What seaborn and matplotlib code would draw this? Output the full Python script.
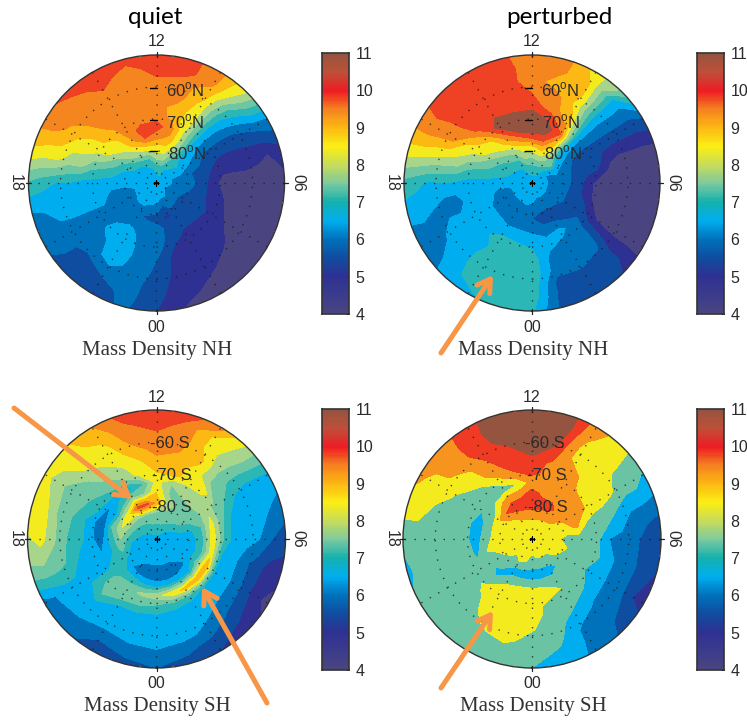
import numpy as np
import pandas as pd
import matplotlib
matplotlib.use("Agg")
import matplotlib.pyplot as plt
import seaborn as sns

# --- values: one row per local time hour (00..23),
# one column per radius (0 = pole, 1 = rim) ---
RADII = [0.0, 0.12, 0.20, 0.28, 0.36, 0.44, 0.52, 0.60, 0.70, 0.80, 0.90, 1.0]

quiet_nh = [
    [6.3, 6.25, 5.75, 5.25, 5.75, 5.75, 5.75, 5.5, 5.4, 5.2, 5.1, 5.0],
    [6.3, 6.0, 5.3, 4.9, 5.3, 5.3, 5.0, 4.75, 4.75, 4.75, 4.7, 4.4],
    [6.3, 6.0, 5.7, 5.0, 5.2, 4.9, 4.75, 4.75, 4.7, 4.6, 4.3, 4.25],
    [6.3, 5.9, 5.5, 5.1, 5.2, 4.9, 4.75, 4.7, 4.6, 4.3, 4.25, 4.25],
    [6.3, 5.8, 5.5, 5.3, 5.2, 5.0, 4.8, 4.5, 4.25, 4.25, 4.25, 4.25],
    [6.3, 5.9, 5.7, 5.4, 5.3, 4.7, 4.6, 4.25, 4.25, 4.25, 4.25, 4.25],
    [6.3, 6.0, 5.8, 5.6, 5.25, 4.7, 4.3, 4.25, 4.25, 4.25, 4.25, 4.25],
    [6.3, 6.0, 5.9, 5.5, 5.25, 5.0, 4.7, 4.7, 4.7, 4.6, 4.5, 4.8],
    [6.3, 6.1, 6.2, 6.0, 5.75, 5.3, 5.25, 5.2, 5.25, 5.5, 5.75, 5.9],
    [6.3, 6.3, 6.7, 6.25, 6.25, 6.2, 6.2, 6.25, 6.5, 6.9, 7.6, 8.0],
    [6.3, 6.5, 6.9, 7.4, 7.8, 7.8, 8.0, 8.2, 8.3, 8.7, 9.1, 9.2],
    [6.3, 6.7, 7.7, 8.3, 8.9, 9.2, 8.8, 8.8, 9.2, 9.2, 9.7, 9.7],
    [6.3, 6.6, 7.7, 8.3, 9.2, 9.7, 9.3, 9.2, 9.2, 9.4, 9.7, 9.8],
    [6.3, 6.5, 7.0, 8.2, 9.5, 9.7, 9.2, 9.2, 9.25, 9.3, 9.3, 9.7],
    [6.3, 6.3, 6.9, 8.0, 8.8, 9.2, 9.2, 9.25, 9.25, 9.4, 9.7, 9.8],
    [6.3, 6.2, 6.6, 7.6, 8.1, 8.3, 8.8, 9.0, 9.25, 9.25, 9.3, 9.7],
    [6.3, 6.1, 6.5, 6.8, 7.4, 8.0, 8.2, 8.25, 8.5, 8.9, 9.2, 9.25],
    [6.3, 6.1, 6.3, 6.4, 6.8, 7.0, 7.2, 7.75, 7.75, 8.2, 8.2, 8.4],
    [6.3, 6.1, 6.25, 6.2, 6.25, 6.25, 6.3, 6.3, 6.5, 6.5, 6.7, 6.9],
    [6.3, 6.2, 5.9, 5.8, 5.8, 6.2, 6.25, 6.25, 6.25, 6.2, 6.0, 5.9],
    [6.3, 6.25, 5.9, 5.5, 5.75, 5.8, 5.75, 5.75, 5.75, 5.75, 5.75, 5.6],
    [6.3, 6.3, 6.0, 5.6, 5.75, 6.0, 6.1, 5.9, 5.8, 5.3, 5.25, 5.25],
    [6.3, 6.25, 6.0, 5.6, 5.9, 6.25, 6.25, 6.25, 6.2, 5.7, 5.25, 5.25],
    [6.3, 6.2, 5.9, 5.4, 5.75, 5.8, 5.9, 5.9, 5.8, 5.75, 5.7, 5.6],
]

perturbed_nh = [
    [6.2, 6.2, 5.8, 5.5, 5.8, 6.2, 6.5, 6.8, 6.9, 6.9, 6.8, 6.6],
    [6.2, 6.0, 5.7, 5.2, 5.6, 6.0, 6.1, 5.8, 5.75, 5.3, 5.3, 5.2],
    [6.2, 6.0, 5.8, 5.0, 5.6, 6.2, 5.8, 5.75, 5.75, 5.4, 5.25, 5.25],
    [6.2, 6.0, 5.7, 5.3, 5.3, 5.7, 5.75, 5.75, 5.6, 5.25, 5.25, 5.0],
    [6.2, 6.0, 5.8, 5.5, 5.3, 5.3, 4.7, 4.4, 4.25, 4.25, 4.25, 4.25],
    [6.2, 6.0, 5.75, 5.5, 5.25, 4.7, 4.3, 4.25, 4.25, 4.25, 4.25, 4.25],
    [6.2, 6.0, 5.75, 5.6, 5.25, 4.7, 4.25, 4.25, 4.25, 4.25, 4.25, 4.25],
    [6.2, 6.0, 5.9, 5.6, 5.3, 5.25, 5.2, 4.6, 4.25, 4.25, 4.25, 4.25],
    [6.2, 6.0, 6.2, 5.9, 5.5, 5.25, 5.25, 5.25, 5.25, 5.25, 5.25, 5.4],
    [6.2, 6.3, 7.2, 6.3, 6.25, 6.2, 6.2, 6.2, 6.2, 6.3, 6.3, 7.4],
    [6.2, 6.7, 7.5, 8.2, 8.7, 9.5, 9.0, 8.6, 8.3, 8.5, 8.5, 8.3],
    [6.2, 6.8, 7.7, 8.7, 9.8, 10.3, 9.8, 9.25, 9.25, 8.7, 9.1, 9.25],
    [6.2, 6.8, 7.5, 8.3, 9.7, 10.5, 10.4, 9.75, 9.5, 9.25, 9.25, 9.25],
    [6.2, 6.7, 7.5, 8.2, 9.3, 10.4, 10.3, 9.8, 9.75, 9.7, 9.7, 9.6],
    [6.2, 6.5, 6.9, 7.7, 8.7, 9.5, 10.4, 9.9, 9.75, 9.8, 9.75, 9.75],
    [6.2, 6.3, 6.8, 7.3, 8.0, 8.3, 9.0, 9.7, 9.75, 9.75, 9.75, 9.75],
    [6.2, 6.2, 6.7, 6.9, 7.4, 8.0, 8.25, 8.5, 9.2, 9.3, 9.4, 9.3],
    [6.2, 6.2, 6.5, 6.7, 6.9, 7.0, 7.2, 7.7, 7.8, 8.0, 8.2, 8.3],
    [6.2, 6.2, 6.2, 6.2, 6.25, 6.25, 6.3, 6.4, 6.5, 6.4, 6.6, 6.8],
    [6.2, 6.1, 5.9, 5.9, 6.2, 6.0, 6.2, 5.7, 5.7, 6.0, 6.2, 6.2],
    [6.2, 6.1, 5.9, 5.5, 6.0, 6.2, 6.25, 6.25, 6.25, 5.9, 5.6, 5.5],
    [6.2, 6.1, 5.9, 5.5, 6.0, 6.25, 6.25, 6.25, 6.3, 6.25, 6.2, 6.1],
    [6.2, 6.1, 5.9, 5.5, 5.9, 6.25, 6.9, 6.6, 6.8, 6.9, 6.8, 6.3],
    [6.2, 6.2, 5.9, 5.5, 5.9, 6.3, 6.7, 6.9, 6.9, 6.9, 6.9, 6.8],
]

quiet_sh = [
    [6.3, 6.2, 6.0, 5.6, 6.2, 7.8, 6.9, 6.4, 6.25, 6.25, 5.8, 5.5],
    [6.3, 6.2, 6.0, 5.5, 6.3, 8.3, 6.8, 6.25, 6.25, 6.1, 5.6, 5.3],
    [6.3, 6.2, 6.0, 5.6, 6.4, 8.6, 6.6, 6.3, 6.1, 5.9, 5.3, 5.0],
    [6.3, 6.2, 6.1, 5.9, 6.5, 8.9, 6.5, 6.2, 5.9, 5.4, 5.0, 4.8],
    [6.3, 6.2, 6.2, 6.2, 7.2, 8.9, 6.4, 6.25, 5.8, 5.2, 4.6, 4.3],
    [6.3, 6.2, 6.2, 6.25, 6.8, 8.3, 6.4, 6.25, 5.7, 5.2, 4.8, 4.7],
    [6.3, 6.2, 6.3, 6.3, 6.9, 8.3, 7.0, 6.3, 6.2, 6.0, 5.5, 5.3],
    [6.3, 6.3, 6.5, 6.5, 7.0, 8.2, 7.2, 6.4, 6.3, 6.25, 6.0, 5.7],
    [6.3, 6.5, 6.9, 7.2, 7.3, 7.8, 7.3, 7.0, 6.5, 6.3, 6.3, 6.4],
    [6.3, 6.6, 7.2, 7.3, 7.5, 7.7, 8.2, 7.4, 7.3, 7.5, 7.8, 7.9],
    [6.3, 6.9, 7.3, 7.4, 7.4, 7.8, 8.2, 8.3, 8.6, 8.3, 8.4, 9.2],
    [6.3, 7.0, 7.3, 8.0, 7.5, 7.5, 8.7, 8.7, 9.0, 9.25, 9.3, 9.75],
    [6.3, 7.0, 7.3, 8.8, 8.5, 8.2, 8.5, 8.8, 9.2, 9.3, 9.8, 9.8],
    [6.3, 7.0, 7.4, 9.6, 7.5, 6.9, 8.2, 8.3, 8.7, 9.2, 9.4, 9.8],
    [6.3, 6.9, 7.3, 9.7, 7.6, 6.3, 7.4, 7.8, 8.2, 8.3, 8.7, 9.0],
    [6.3, 6.7, 7.3, 8.5, 7.0, 6.2, 7.0, 7.4, 7.7, 8.2, 8.3, 8.4],
    [6.3, 6.6, 7.2, 8.3, 6.4, 5.9, 6.8, 7.0, 7.1, 7.4, 7.8, 8.2],
    [6.3, 6.5, 7.0, 7.9, 7.0, 5.4, 6.2, 6.6, 7.1, 7.5, 8.2, 8.5],
    [6.3, 6.4, 6.6, 7.5, 6.6, 5.6, 6.25, 6.7, 7.0, 7.6, 8.2, 7.9],
    [6.3, 6.3, 6.4, 7.2, 6.4, 6.0, 6.3, 6.3, 6.9, 7.2, 7.4, 7.4],
    [6.3, 6.3, 6.3, 6.6, 6.9, 6.3, 6.25, 6.3, 6.3, 6.25, 6.0, 5.75],
    [6.3, 6.2, 6.2, 6.1, 6.7, 7.2, 7.3, 7.0, 6.3, 6.25, 5.75, 5.6],
    [6.3, 6.2, 6.1, 5.7, 6.7, 7.3, 7.2, 6.4, 6.25, 6.0, 5.5, 5.3],
    [6.3, 6.2, 6.0, 5.6, 6.4, 7.6, 7.1, 6.4, 6.25, 6.2, 5.6, 5.4],
]

perturbed_sh = [
    [8.3, 8.0, 7.5, 6.3, 7.8, 8.5, 8.5, 8.5, 8.1, 7.5, 7.4, 7.0],
    [8.3, 8.3, 7.5, 6.3, 7.7, 8.5, 7.7, 7.5, 7.4, 7.3, 6.8, 6.5],
    [8.3, 8.3, 7.6, 6.3, 7.8, 8.0, 7.4, 7.2, 6.5, 5.75, 5.8, 5.8],
    [8.3, 8.2, 7.7, 7.2, 7.6, 7.5, 7.4, 6.5, 5.8, 5.6, 5.5, 5.4],
    [8.3, 8.3, 8.3, 7.5, 7.5, 7.3, 6.5, 6.3, 5.7, 5.6, 5.0, 4.8],
    [8.3, 8.3, 8.3, 8.0, 7.5, 7.3, 7.2, 6.4, 5.7, 5.6, 5.3, 5.0],
    [8.3, 8.2, 8.2, 7.5, 7.5, 7.5, 7.1, 6.0, 5.75, 5.6, 5.3, 5.2],
    [8.3, 8.0, 8.4, 8.5, 8.9, 7.8, 7.4, 7.4, 6.5, 5.9, 5.7, 5.6],
    [8.3, 8.0, 8.5, 8.9, 9.2, 9.0, 8.5, 8.3, 8.1, 7.5, 7.5, 6.8],
    [8.3, 8.1, 9.1, 9.3, 9.25, 9.25, 8.6, 8.3, 8.3, 8.3, 8.2, 8.3],
    [8.3, 8.2, 9.2, 9.7, 9.3, 9.25, 9.25, 9.25, 8.4, 8.5, 8.9, 9.2],
    [8.3, 8.5, 9.2, 9.8, 9.3, 9.25, 9.25, 9.4, 9.8, 10.2, 10.5, 10.5],
    [8.3, 8.5, 9.2, 10.0, 9.7, 9.1, 9.7, 9.75, 10.3, 10.5, 10.5, 10.5],
    [8.3, 8.4, 9.2, 9.9, 9.2, 8.0, 9.4, 9.75, 9.8, 10.2, 10.5, 10.5],
    [8.3, 8.3, 9.1, 9.8, 9.2, 7.5, 8.5, 9.25, 9.5, 9.8, 9.8, 9.75],
    [8.3, 8.2, 8.7, 9.5, 8.5, 7.4, 7.5, 8.3, 8.6, 9.2, 9.3, 9.3],
    [8.3, 8.2, 8.3, 8.8, 7.5, 7.0, 7.4, 7.5, 8.1, 8.5, 8.6, 9.0],
    [8.3, 8.3, 8.4, 8.5, 7.4, 6.4, 7.3, 7.4, 7.5, 7.8, 8.4, 8.4],
    [8.3, 8.0, 8.4, 8.4, 7.6, 6.4, 7.3, 7.4, 7.4, 7.4, 7.4, 7.4],
    [8.3, 8.0, 8.5, 8.3, 8.0, 6.8, 7.4, 7.5, 7.5, 7.5, 7.5, 6.6],
    [8.3, 8.2, 8.4, 7.6, 7.5, 7.4, 7.4, 7.5, 7.5, 7.5, 7.5, 7.3],
    [8.3, 8.2, 7.8, 7.4, 6.6, 7.4, 8.2, 7.8, 7.5, 7.4, 7.4, 7.4],
    [8.3, 8.3, 8.0, 6.5, 7.4, 8.4, 8.5, 8.5, 8.4, 7.9, 7.4, 7.4],
    [8.3, 8.3, 7.9, 6.3, 7.8, 8.5, 8.5, 8.5, 8.5, 8.3, 7.4, 7.3],
]

nh_lat_labels = ["60$^{\\rm o}$N", "70$^{\\rm o}$N", "80$^{\\rm o}$N"]
sh_lat_labels = ["-60 S", "-70 S", "-80 S"]
cbar_ticks = [4, 5, 6, 7, 8, 9, 10, 11]
hour_labels = ["00", "06", "12", "18"]

# contour bands and their colours
levels_all = [4, 4.5, 5, 5.5, 6, 6.5, 7, 7.5, 8, 8.5, 9, 9.5, 10, 11]
fills_all = ["#4a4580", "#2e3192", "#0f4da0", "#0072bc", "#00aeef", "#2ab7b5", "#6ec6a3",
             "#a8d58c", "#f4eb1f", "#fdb913", "#f5861f", "#ef4123", "#945440"]
levels_coarse = [4, 4.5, 5, 5.5, 6, 7, 8, 8.8, 9.5, 10, 11]
fills_coarse = ["#4a4580", "#2e3192", "#0f4da0", "#0072bc", "#00aeef", "#6ac4a4",
                "#f4eb1f", "#f7941d", "#ef3a24", "#945440"]
cbar_colors = ["#4a4580", "#3b3b8c", "#2e3192", "#0f4da0", "#0072bc", "#00aeef", "#14b1ad", "#7cc9a0",
               "#c8dc5a", "#fbee14", "#fdb913", "#f5821f", "#ed1c24", "#bf4f38", "#945440"]

W, H = 747, 721
sns.set_style("white")
plt.rcParams["font.family"] = ["Liberation Sans", "DejaVu Sans"]
plt.rcParams["mathtext.fontset"] = "custom"
plt.rcParams["mathtext.rm"] = "Liberation Sans"
TXT = "#2b2b2b"

fig = plt.figure(figsize=(W / 100, H / 100), dpi=100)

# pixel overlay for labels and arrows
over = fig.add_axes([0, 0, 1, 1], zorder=10)
over.set_xlim(0, W)
over.set_ylim(H, 0)
over.axis("off")

cmap = sns.blend_palette(cbar_colors, as_cmap=True)
bar_df = pd.DataFrame(np.linspace(11, 4, 280).reshape(-1, 1))


def draw_panel(values, cx, cy, R, levels, fills, lat_labels, lat_offsets, title, bar_x):
    ax = fig.add_axes([(cx - R) / W, 1 - (cy + R) / H, 2 * R / W, 2 * R / H], projection="polar")
    ax.set_theta_zero_location("S")
    ax.set_theta_direction(1)

    df = pd.DataFrame(values, columns=RADII)
    df.loc[24] = df.loc[0]  # close the circle
    theta = df.index.values * np.pi / 12
    ax.contourf(theta, df.columns.values, df.values.T, levels=levels, colors=fills)
    ax.set_ylim(0, 1)
    ax.set_xticks([])
    ax.set_yticks([])
    ax.grid(False)
    ax.spines["polar"].set_color("#333333")
    ax.spines["polar"].set_linewidth(1.0)

    # dotted grid
    dots = dict(color="#1a1a1a", lw=1.0, ls=(0, (1, 6)), alpha=0.8)
    for h in range(0, 24, 2):
        ax.plot([h * np.pi / 12] * 2, [0, 1], **dots)
    for r in [0.25, 0.5, 0.75]:
        ax.plot(np.linspace(0, 2 * np.pi, 200), [r] * 200, **dots)
    ax.plot([0], [0], marker="+", color="black", ms=4, mew=0.8)

    # hour labels and little ticks round the rim
    lab = dict(ha="center", va="center", fontsize=11.5, color=TXT)
    over.text(cx, cy - 141, hour_labels[2], **lab)
    over.text(cx, cy + 144, hour_labels[0], **lab)
    over.text(cx - 141, cy, hour_labels[3], rotation=-90, **lab)
    over.text(cx + 141, cy, hour_labels[1], rotation=-90, **lab)
    for dx, dy in [(0, -1), (0, 1), (-1, 0), (1, 0)]:
        over.plot([cx + dx * (R - 2), cx + dx * (R + 3)], [cy + dy * (R - 2), cy + dy * (R + 3)],
                  color="#222222", lw=0.9)

    # latitude labels
    for txt, (dx, dy) in zip(lat_labels, lat_offsets):
        over.text(cx + dx, cy + dy, txt, ha="left", va="center", fontsize=12, color=TXT)
    if lat_labels is nh_lat_labels:
        for dx, dy in lat_offsets:
            over.plot([cx - 7, cx], [cy + dy - 2, cy + dy - 2], color="black", lw=1)

    over.text(cx + 1, cy + 168, title, ha="center", va="center", fontsize=15,
              family="Liberation Serif", color="#333333")

    # colour bar
    bar = fig.add_axes([bar_x / W, 1 - (cy + 131) / H, 26.5 / W, 261 / H])
    sns.heatmap(bar_df, ax=bar, cmap=cmap, vmin=4, vmax=11, cbar=False, xticklabels=False)
    bar.set_yticks([(11 - t) / 7 * 280 for t in cbar_ticks])
    bar.set_yticklabels(cbar_ticks, rotation=0, fontsize=11.5, color=TXT)
    bar.yaxis.tick_right()
    bar.tick_params(axis="y", direction="in", length=2.5, width=0.7, pad=5, right=True, color="#222222")
    for s in bar.spines.values():
        s.set_visible(True)
        s.set_color("#333333")
        s.set_linewidth(1.2)


nh_offsets = [(9, -93), (10, -61), (12, -30)]
sh_offsets = [(-7, -96), (-5, -63), (-4, -32)]

draw_panel(quiet_nh, 156.5, 183, 128, levels_all, fills_all, nh_lat_labels, nh_offsets, "Mass Density NH", 322)
draw_panel(perturbed_nh, 532, 183, 128, levels_all, fills_all, nh_lat_labels, nh_offsets, "Mass Density NH", 697)
draw_panel(quiet_sh, 156.5, 539, 129, levels_all, fills_all, sh_lat_labels, sh_offsets, "Mass Density SH", 322)
draw_panel(perturbed_sh, 532, 539, 129, levels_coarse, fills_coarse, sh_lat_labels, sh_offsets, "Mass Density SH", 697)

for label, x in [("quiet", 155), ("perturbed", 559)]:
    over.text(x, 17, label, ha="center", va="center", fontsize=17.5, family="Lato", color="black")

# orange arrows (tail, head)
arrows = [((441, 353), (493, 275)), ((14, 408), (132, 499)),
          ((267, 703), (202, 587)), ((441, 688), (493, 611))]
for tail, head in arrows:
    over.annotate("", xy=head, xytext=tail,
                  arrowprops=dict(arrowstyle="->,head_length=0.9,head_width=0.55", color="#f79646",
                                  lw=3.6, shrinkA=0, shrinkB=0))

fig.savefig("out.png", dpi=100)
